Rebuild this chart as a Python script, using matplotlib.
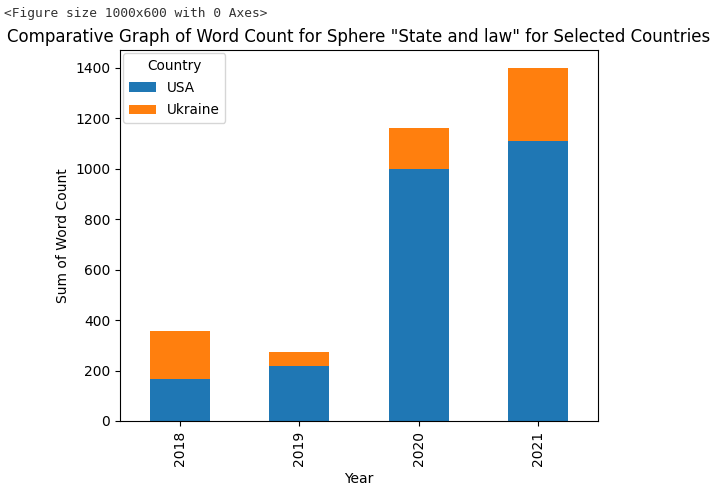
import numpy as np
import pandas as pd
import matplotlib.pyplot as plt

years = [2018, 2019, 2020, 2021]
usa = [167, 218, 1000, 1111]
ukraine = [190, 54, 162, 289]

df = pd.DataFrame({"USA": usa, "Ukraine": ukraine}, index=years)
df.index.name = "Year"
df.columns.name = "Country"

fig = plt.figure(figsize=(7.2, 4.87), dpi=100)
ax = fig.add_axes([120 / 720, 1 - 421 / 487, 478 / 720, 371 / 487])

df.plot(kind="bar", stacked=True, ax=ax)

ax.set_title('Comparative Graph of Word Count for Sphere "State and law" for Selected Countries',
             fontsize=12, pad=6)
ax.set_ylabel("Sum of Word Count")
ax.set_xlabel("Year")
ax.legend(title="Country", loc="upper left", fontsize=9.8, title_fontsize=9.8,
          borderaxespad=0.25, labelspacing=0.6)

fig.text(0.005, 0.985, "<Figure size 1000x600 with 0 Axes>", family="DejaVu Sans Mono",
         fontsize=9.3, va="top", ha="left", color="#333333")

fig.savefig("out.png", dpi=100)
